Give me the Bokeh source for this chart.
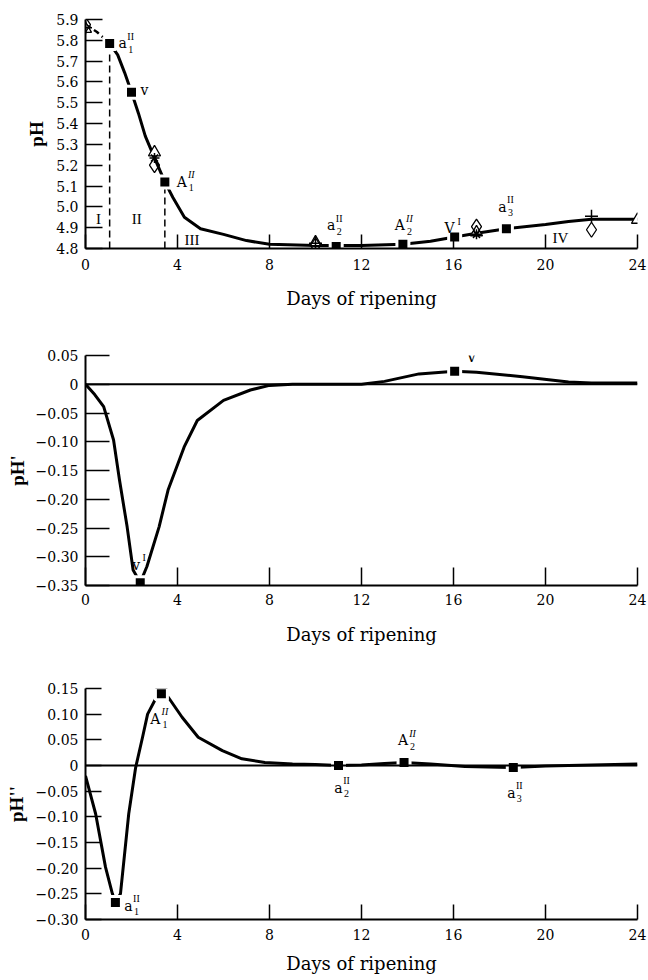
from bokeh.plotting import figure
from bokeh.layouts import column
from bokeh.models import Range1d, FixedTicker, CustomJSTickFormatter, Span
from bokeh.embed import file_html
from bokeh.resources import INLINE
from bokeh.core.properties import value

# ---------------- data ----------------
day_ticks = [0, 4, 8, 12, 16, 20, 24]
ph_ticks = [4.8, 4.9, 5.0, 5.1, 5.2, 5.3, 5.4, 5.5, 5.6, 5.7, 5.8, 5.9]
d1_ticks = [0.05, 0.0, -0.05, -0.10, -0.15, -0.20, -0.25, -0.30, -0.35]
d2_ticks = [0.15, 0.10, 0.05, 0.0, -0.05, -0.10, -0.15, -0.20, -0.25, -0.30]

# pH curve (fitted)
ph_curve_days = [0, 0.5, 1.05, 1.4, 1.7, 2.0, 2.3, 2.6, 3.0, 3.45, 3.8, 4.3, 5.0, 6.0,
                 7.0, 8.0, 10.0, 12.0, 13.8, 15.0, 16.05, 17.0, 18.3, 20.0, 21.0, 22.0, 24.0]
ph_curve = [5.875, 5.84, 5.785, 5.73, 5.645, 5.55, 5.45, 5.34, 5.235, 5.12, 5.045, 4.95, 4.895,
            4.868, 4.838, 4.82, 4.815, 4.815, 4.82, 4.835, 4.855, 4.873, 4.895, 4.915, 4.93, 4.94, 4.94]

# characteristic points on the pH curve
ph_pt_days = [1.05, 2.0, 3.45, 10.9, 13.8, 16.05, 18.3]
ph_pt_vals = [5.785, 5.55, 5.12, 4.81, 4.82, 4.855, 4.895]
ph_pt_main = ["a", "v", "A", "a", "A", "V", "a"]
ph_pt_sup = ["II", "", "II", "II", "II", "I", "II"]
ph_pt_sub = ["1", "", "1", "2", "2", "", "3"]

# measured pH (different samples)
tri_days = [0, 3.0, 10.0, 17.0, 24.0]
tri_ph = [5.855, 5.262, 4.83, 4.878, 4.938]
dia_days = [0, 3.0, 10.0, 17.0, 22.0]
dia_ph = [5.875, 5.20, 4.815, 4.905, 4.89]
ast_days = [3.0, 17.0]
ast_ph = [5.235, 4.868]
plus_days = [0, 10.0, 22.0]
plus_ph = [5.86, 4.825, 4.955]

# first derivative pH'
d1_days = [0, 0.4, 0.79, 1.22, 1.48, 1.81, 2.07, 2.38, 2.67, 3.2, 3.59, 4.29, 4.86, 6.0,
           7.17, 8.0, 9.0, 10.5, 12.0, 13.0, 14.5, 16.05, 17.0, 19.0, 21.0, 22.0, 24.0]
d1_vals = [0.0, -0.018, -0.039, -0.097, -0.167, -0.248, -0.323, -0.345, -0.317, -0.248, -0.184,
           -0.109, -0.063, -0.028, -0.010, -0.002, 0.0, 0.0, 0.0, 0.005, 0.018, 0.0226, 0.021,
           0.013, 0.004, 0.002, 0.002]
d1_pt_days = [2.38, 16.05]
d1_pt_vals = [-0.345, 0.0226]
d1_pt_main = ["v", "V"]
d1_pt_sup = ["I", "I"]
d1_pt_sub = ["", ""]

# second derivative pH''
d2_days = [0, 0.44, 0.87, 1.17, 1.3, 1.52, 1.88, 2.18, 2.48, 2.7, 3.05, 3.3, 3.6, 4.2, 4.9,
           5.95, 6.8, 7.8, 9.0, 10.0, 11.0, 12.0, 13.0, 13.85, 15.0, 16.5, 18.6, 20.0, 22.0, 24.0]
d2_vals = [-0.02, -0.094, -0.198, -0.25, -0.267, -0.25, -0.094, -0.004, 0.055, 0.10, 0.13, 0.14,
           0.133, 0.094, 0.055, 0.029, 0.013, 0.006, 0.003, 0.002, 0.0, 0.001, 0.004, 0.006,
           0.003, -0.002, -0.004, -0.001, 0.001, 0.003]
d2_pt_days = [1.3, 3.3, 11.0, 13.85, 18.6]
d2_pt_vals = [-0.267, 0.14, 0.0, 0.006, -0.004]
d2_pt_main = ["a", "A", "a", "A", "a"]
d2_pt_sup = ["II", "II", "II", "II", "II"]
d2_pt_sub = ["1", "1", "2", "2", "3"]

phase_names = ["I", "II", "III", "IV"]

# ---------------- styling helpers ----------------
SERIF = "DejaVu Serif"
TIMES = "Liberation Serif"
X_LABEL = "Days of ripening"


def style(p, xtick_in, ytick_in, ylabel, ylab_standoff, yticks, fmt_code,
          xlab_standoff, xaxis_lab_standoff):
    p.xgrid.visible = False
    p.ygrid.visible = False
    p.outline_line_color = None
    p.background_fill_color = "white"
    p.border_fill_color = "white"
    xa = p.xaxis[0]
    ya = p.yaxis[0]
    xa.ticker = FixedTicker(ticks=day_ticks)
    ya.ticker = FixedTicker(ticks=yticks)
    ya.formatter = CustomJSTickFormatter(code=fmt_code)
    for ax in (xa, ya):
        ax.major_tick_out = 0
        ax.minor_tick_line_color = None
        ax.axis_line_width = 2
        ax.axis_line_color = "black"
        ax.major_tick_line_width = 1.5
        ax.major_tick_line_color = "black"
        ax.major_label_text_font = SERIF
        ax.major_label_text_font_size = "14px"
        ax.major_label_text_color = "black"
        ax.axis_label_text_color = "black"
    xa.major_tick_in = xtick_in
    ya.major_tick_in = ytick_in
    xa.major_label_standoff = xlab_standoff
    ya.major_label_standoff = 7
    xa.axis_label = X_LABEL
    xa.axis_label_text_font = SERIF
    xa.axis_label_text_font_size = "18px"
    xa.axis_label_text_font_style = "normal"
    xa.axis_label_standoff = xaxis_lab_standoff
    ya.axis_label = ylabel
    ya.axis_label_text_font = TIMES
    ya.axis_label_text_font_size = "19px"
    ya.axis_label_text_font_style = "bold"
    ya.axis_label_standoff = ylab_standoff


WIDTHS = {"a": 8, "A": 11, "v": 8, "V": 11}


def point_labels(p, xs, ys, mains, sups, subs, offsets):
    for x, y, m, su, sb, (dx, dy) in zip(xs, ys, mains, sups, subs, offsets):
        p.text(x=[x], y=[y], text=[m], x_offset=dx, y_offset=dy,
               text_font=value(SERIF), text_font_size="14px",
               text_align="center", text_baseline="middle", text_color="black")
        w = WIDTHS.get(m, 8)
        italic = "italic" if m == "A" else "normal"
        if su:
            p.text(x=[x], y=[y], text=[su], x_offset=dx + w / 2 + 4, y_offset=dy - 7,
                   text_font=value(TIMES), text_font_size="10px", text_font_style=italic,
                   text_align="center", text_baseline="middle", text_color="black")
        if sb:
            p.text(x=[x], y=[y], text=[sb], x_offset=dx + w / 2 + 4, y_offset=dy + 6,
                   text_font=value(TIMES), text_font_size="10px",
                   text_align="center", text_baseline="middle", text_color="black")


def squares(p, xs, ys):
    p.scatter(xs, ys, marker="square", size=12, fill_color="black",
              line_color="white", line_width=3)


FMT1 = "return tick.toFixed(1);"
FMT2 = ("var v = Math.round(tick*100)/100; if (v == 0) return '0';"
        "return (v < 0 ? '\\u2212' : '') + Math.abs(v).toFixed(2);")

W = 648
LEFT = 85
RIGHT = 11

# ---------------- top panel: pH ----------------
p1 = figure(width=W, height=318, x_range=Range1d(0, 24), y_range=Range1d(4.8, 5.9),
            output_backend="svg", toolbar_location=None,
            min_border_left=LEFT, min_border_right=RIGHT, min_border_top=19, min_border_bottom=70)
style(p1, 14, 17, "pH", 6, ph_ticks, FMT1, 10, 15)

k = ph_curve_days.index(ph_pt_days[0])
p1.line(ph_curve_days[:k + 1], ph_curve[:k + 1], line_width=2.5, color="black", line_dash="6 4")
p1.line(ph_curve_days[k:], ph_curve[k:], line_width=3, color="black", line_join="round")
# vertical dashed lines marking phase boundaries at a1'' and A1''
p1.segment(x0=[ph_pt_days[0], ph_pt_days[2]], y0=[4.8, 4.8],
           x1=[ph_pt_days[0], ph_pt_days[2]], y1=[ph_pt_vals[0], ph_pt_vals[2]],
           line_dash="7 4", line_width=1.5, color="black")
p1.scatter(tri_days, tri_ph, marker="triangle", size=12, fill_color="white",
           line_color="black", line_width=1.3)
p1.scatter(dia_days, dia_ph, marker="diamond", size=15, fill_color=None,
           line_color="black", line_width=1.3)
p1.scatter(ast_days, ast_ph, marker="asterisk", size=10, line_color="black", line_width=1.5)
p1.scatter(plus_days, plus_ph, marker="cross", size=13, line_color="black", line_width=1.5)
squares(p1, ph_pt_days, ph_pt_vals)
point_labels(p1, ph_pt_days, ph_pt_vals, ph_pt_main, ph_pt_sup, ph_pt_sub,
             [(13, 0), (13, -2), (17, 0), (-5, -21), (-3, -19), (-5, -9), (-4, -22)])
p1.text(x=[0.57, 2.23, 4.63, 20.65], y=[4.94, 4.94, 4.842, 4.85], text=phase_names,
        text_font=value(TIMES), text_font_size="15px", text_align="center",
        text_baseline="middle", text_color="black")

# ---------------- middle panel: pH' ----------------
p2 = figure(width=W, height=332, x_range=Range1d(0, 24), y_range=Range1d(-0.35, 0.05),
            output_backend="svg", toolbar_location=None,
            min_border_left=LEFT, min_border_right=RIGHT, min_border_top=37, min_border_bottom=65)
style(p2, 18, 24, "pH'", 5, d1_ticks, FMT2, 8, 16)
p2.add_layout(Span(location=0, dimension="width", line_color="black", line_width=2))
p2.line(d1_days, d1_vals, line_width=3, color="black", line_join="round")
squares(p2, d1_pt_days, d1_pt_vals)
point_labels(p2, d1_pt_days, d1_pt_vals, d1_pt_main, d1_pt_sup, d1_pt_sub,
             [(-4, -18), (17, -14)])

# ---------------- bottom panel: pH'' ----------------
p3 = figure(width=W, height=330, x_range=Range1d(0, 24), y_range=Range1d(-0.30, 0.15),
            output_backend="svg", toolbar_location=None,
            min_border_left=LEFT, min_border_right=RIGHT, min_border_top=38, min_border_bottom=61)
style(p3, 15, 16, "pH''", 6, d2_ticks, FMT2, 9, 10)
p3.add_layout(Span(location=0, dimension="width", line_color="black", line_width=2))
p3.line(d2_days, d2_vals, line_width=3, color="black", line_join="round")
squares(p3, d2_pt_days, d2_pt_vals)
point_labels(p3, d2_pt_days, d2_pt_vals, d2_pt_main, d2_pt_sup, d2_pt_sub,
             [(13, 3), (-6, 25), (0, 22), (-1, -22), (-2, 25)])

layout = column(p1, p2, p3, spacing=0)
open("out.html", "w").write(file_html(layout, INLINE))
